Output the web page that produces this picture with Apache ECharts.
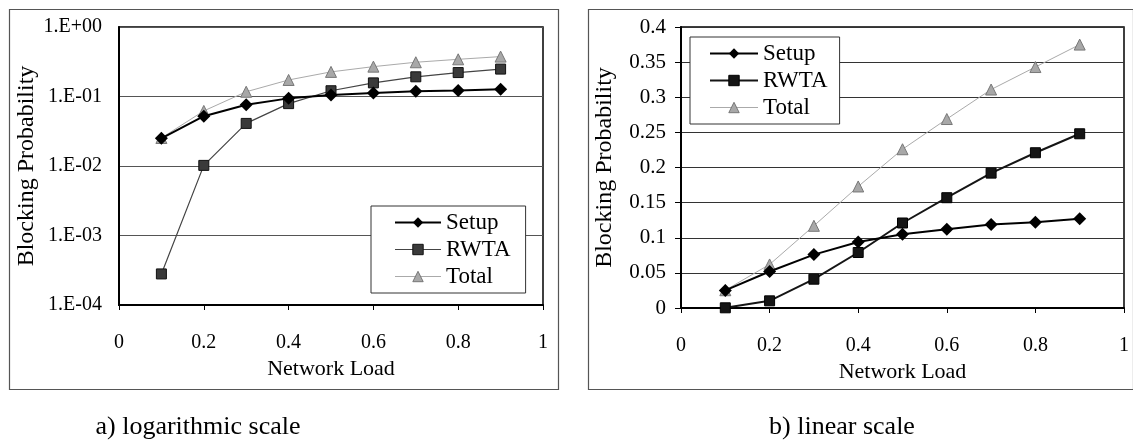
<!DOCTYPE html>
<html>
<head>
<meta charset="utf-8">
<script src="https://cdn.jsdelivr.net/npm/echarts@6/dist/echarts.min.js"></script>
<style>
  html, body { margin: 0; padding: 0; background: #fff; }
  #chart { width: 1133px; height: 447px; }
</style>
</head>
<body>
<div id="chart"></div>
<script>
// Network load values on the x axis
const loads = [0.1, 0.2, 0.3, 0.4, 0.5, 0.6, 0.7, 0.8, 0.9];
// Blocking probabilities per mechanism
const setup = [0.025, 0.052, 0.076, 0.094, 0.105, 0.112, 0.119, 0.122, 0.127];
const rwta  = [0.00028, 0.0102, 0.041, 0.079, 0.121, 0.157, 0.192, 0.221, 0.248];
const total = [0.0253, 0.062, 0.117, 0.173, 0.226, 0.269, 0.311, 0.343, 0.375];
const seriesNames = ['Setup', 'RWTA', 'Total'];
const captions = ['a) logarithmic scale', 'b) linear scale'];

const FONT = "'Liberation Serif', 'Times New Roman', serif";
const pairs = arr => arr.map((v, i) => [loads[i], v]);

const styles = {
  Setup: { symbol: 'diamond', size: 13, line: { color: '#000', width: 2 }, item: { color: '#000', borderColor: '#000', borderWidth: 0 } },
  RWTA:  { symbol: 'rect', size: 10, line: { color: '#444', width: 1.2 }, item: { color: '#3a3a3a', borderColor: '#111', borderWidth: 1 } },
  Total: { symbol: 'triangle', size: 11, line: { color: '#aaa', width: 1 }, item: { color: '#a8a8a8', borderColor: '#777', borderWidth: 1 } }
};
const rwtaLinear = { line: { color: '#151515', width: 2 }, item: { color: '#151515', borderColor: '#000', borderWidth: 1 } };

function logLabel(v) {
  const e = Math.round(Math.log10(v));
  const s = e < 0 ? '-' : '+';
  const a = Math.abs(e);
  return '1.E' + s + (a < 10 ? '0' + a : a);
}

function makeSeries(gridIdx, name, values, override) {
  const st = styles[name];
  const o = override || {};
  return {
    name: name,
    type: 'line',
    xAxisIndex: gridIdx,
    yAxisIndex: gridIdx,
    data: pairs(values),
    symbol: st.symbol,
    symbolSize: st.size,
    showAllSymbol: true,
    lineStyle: o.line || st.line,
    itemStyle: o.item || st.item,
    z: name === 'Setup' ? 5 : (name === 'RWTA' ? 4 : 3),
    animation: false
  };
}

function legendData(linear) {
  return seriesNames.map(n => {
    const st = styles[n];
    const o = (linear && n === 'RWTA') ? rwtaLinear : {};
    return {
      name: n,
      itemStyle: o.item || st.item,
      lineStyle: o.line || st.line
    };
  });
}

const axisText = { fontFamily: FONT, fontSize: 20, color: '#000' };
const nameText = { fontFamily: FONT, fontSize: 22, color: '#000' };
const yNameText = { fontFamily: FONT, fontSize: 24, color: '#000', width: 196, overflow: 'truncate', ellipsis: ' ' };

const xAxisBase = {
  type: 'value', min: 0, max: 1, interval: 0.2,
  name: 'Network Load', nameLocation: 'middle', nameGap: 51,
  nameTextStyle: nameText,
  axisLine: { show: true, lineStyle: { color: '#000', width: 2 } },
  axisTick: { show: true, length: 5, lineStyle: { color: '#000', width: 1 } },
  axisLabel: Object.assign({ margin: 28 }, axisText),
  splitLine: { show: false }
};

const legendBase = {
  orient: 'vertical',
  backgroundColor: '#fff', borderColor: '#333', borderWidth: 1,
  itemWidth: 46, itemHeight: 13, itemGap: 4,
  textStyle: { fontFamily: FONT, fontSize: 23, color: '#000', lineHeight: 23 },
  selectedMode: false
};

const option = {
  backgroundColor: '#fff',
  animation: false,
  grid: [
    { left: 119, top: 27, width: 424, height: 278, show: true, borderColor: '#000', borderWidth: 1.5, backgroundColor: '#fff' },
    { left: 681, top: 27, width: 443, height: 281, show: true, borderColor: '#000', borderWidth: 1.5, backgroundColor: '#fff' }
  ],
  xAxis: [
    Object.assign({}, xAxisBase, { gridIndex: 0 }),
    Object.assign({}, xAxisBase, { gridIndex: 1 })
  ],
  yAxis: [
    {
      gridIndex: 0, type: 'log', logBase: 10, min: 0.0001, max: 1,
      name: 'Blocking Probability', nameLocation: 'middle', nameRotate: 90, nameGap: 80,
      nameTextStyle: yNameText,
      axisLine: { show: true, lineStyle: { color: '#000', width: 2 } },
      axisTick: { show: false },
      axisLabel: Object.assign({ margin: 17, formatter: logLabel }, axisText),
      splitLine: { show: true, lineStyle: { color: '#555', width: 1 } }
    },
    {
      gridIndex: 1, type: 'value', min: 0, max: 0.4, interval: 0.05,
      name: 'Blocking Probability', nameLocation: 'middle', nameRotate: 90, nameGap: 64,
      nameTextStyle: yNameText,
      axisLine: { show: true, lineStyle: { color: '#000', width: 2 } },
      axisTick: { show: true, length: 6, lineStyle: { color: '#000', width: 1 } },
      axisLabel: { margin: 15, fontFamily: FONT, fontSize: 21, color: '#000' },
      splitLine: { show: true, lineStyle: { color: '#333', width: 1 } }
    }
  ],
  legend: [
    Object.assign({}, legendBase, {
      left: 371, top: 206, padding: [5, 15, 5, 23],
      data: legendData(false)
    }),
    Object.assign({}, legendBase, {
      left: 690, top: 37, padding: [5, 12, 5, 19], itemWidth: 48,
      data: legendData(true)
    })
  ],
  graphic: [
    { type: 'rect', left: 7, top: 7, shape: { width: 549, height: 380 }, style: { fill: null, stroke: '#555', lineWidth: 1.2 }, z: -1 },
    { type: 'rect', left: 586, top: 7, shape: { width: 545, height: 380 }, style: { fill: null, stroke: '#555', lineWidth: 1.2 }, z: -1 },
    { type: 'text', x: 198, y: 427, style: { text: captions[0], fontFamily: FONT, fontSize: 26, fill: '#000', align: 'center', verticalAlign: 'middle' } },
    { type: 'text', x: 842, y: 427, style: { text: captions[1], fontFamily: FONT, fontSize: 26, fill: '#000', align: 'center', verticalAlign: 'middle' } }
  ],
  series: [
    makeSeries(0, 'Total', total),
    makeSeries(0, 'RWTA', rwta),
    makeSeries(0, 'Setup', setup),
    makeSeries(1, 'Total', total),
    makeSeries(1, 'RWTA', rwta, rwtaLinear),
    makeSeries(1, 'Setup', setup)
  ]
};

const chart = echarts.init(document.getElementById('chart'), null, { renderer: 'canvas' });
chart.setOption(option);
</script>
</body>
</html>
